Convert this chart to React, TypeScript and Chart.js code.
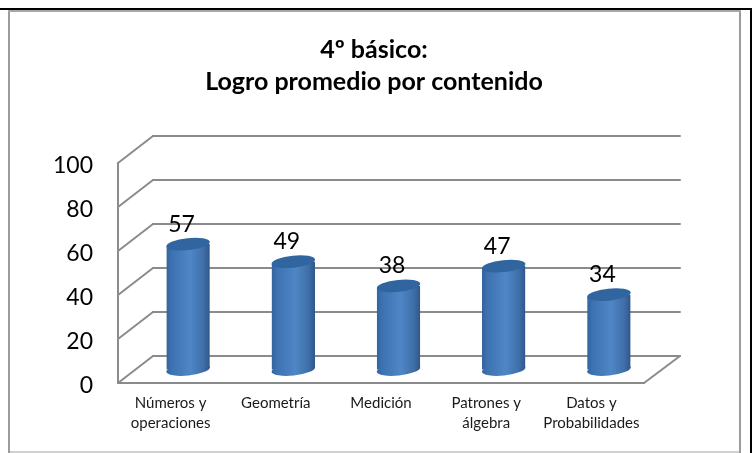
import { useEffect, useRef } from "react";
import { Chart, registerables } from "chart.js";

Chart.register(...registerables);

const categories = [
  ["Números y", "operaciones"],
  ["Geometría"],
  ["Medición"],
  ["Patrones y", "álgebra"],
  ["Datos y", "Probabilidades"],
];
const values = [57, 49, 38, 47, 34];
const yTicks = [0, 20, 40, 60, 80, 100];
const titleLines = ["4º básico:", "Logro promedio por contenido"];

const FONT = "Lato, 'Open Sans', sans-serif";
const DX = 35; // depth of the 3D box, x
const DY = 27; // depth of the 3D box, y
const BX = 17.5; // bars stand in the middle of the depth
const BY = 13.5;
const TILT = (-6 * Math.PI) / 180;
const RY = 6;
const WALL = "#8b8b8b";

function barGradient(ctx: CanvasRenderingContext2D, cx: number, w: number) {
  const g = ctx.createLinearGradient(cx - w / 2, 0, cx + w / 2, 0);
  g.addColorStop(0, "#32639f");
  g.addColorStop(0.12, "#3d72b0");
  g.addColorStop(0.55, "#4f86c6");
  g.addColorStop(0.85, "#3f6fa9");
  g.addColorStop(1, "#2f5787");
  return g;
}

const frame = {
  id: "frame",
  beforeDraw(chart: any) {
    const { ctx } = chart;
    ctx.save();
    ctx.fillStyle = "#ffffff";
    ctx.fillRect(0, 0, 752, 453);
    ctx.fillStyle = "#000000";
    ctx.fillRect(0, 8, 752, 2);
    ctx.fillRect(750, 8, 2, 445);
    ctx.fillStyle = "#9c9c9c";
    ctx.fillRect(8, 10, 2, 443);
    ctx.fillRect(739, 10, 2, 443);
    ctx.fillStyle = "#a8a8a8";
    ctx.fillRect(8, 10, 733, 2);
    ctx.fillStyle = "#d0d0d0";
    ctx.fillRect(10, 451, 729, 2);
    ctx.restore();
  },
};

const walls = {
  id: "walls",
  beforeDatasetsDraw(chart: any) {
    const { ctx, scales, chartArea } = chart;
    const y = scales.y;
    const { left, right } = chartArea;
    ctx.save();
    ctx.strokeStyle = WALL;
    ctx.lineWidth = 2;
    ctx.lineCap = "round";
    const line = (a: number, b: number, c: number, d: number) => {
      ctx.beginPath();
      ctx.moveTo(a, b);
      ctx.lineTo(c, d);
      ctx.stroke();
    };
    for (const v of yTicks) {
      const py = y.getPixelForValue(v);
      line(left, py, left + DX, py - DY);
      line(left + DX, py - DY, right + DX + 1, py - DY);
    }
    line(left, y.getPixelForValue(100), left, y.getPixelForValue(0));
    line(left, y.getPixelForValue(0), right, y.getPixelForValue(0));
    line(right, y.getPixelForValue(0), right + DX + 1, y.getPixelForValue(0) - DY);
    ctx.restore();
  },
};

const cylinders = {
  id: "cylinders",
  beforeDatasetDraw(chart: any, args: any) {
    const { ctx } = chart;
    ctx.save();
    ctx.translate(BX, -BY);
    const slope = Math.tan(TILT) / 2;
    ctx.beginPath();
    for (const el of args.meta.data) {
      const h = el.width / 2;
      ctx.moveTo(el.x - h, el.y - slope * el.width);
      ctx.lineTo(el.x + h, el.y + slope * el.width);
      ctx.lineTo(el.x + h, el.base + slope * el.width);
      ctx.lineTo(el.x - h, el.base - slope * el.width);
      ctx.closePath();
    }
    ctx.clip();
  },
  afterDatasetDraw(chart: any, args: any) {
    const { ctx } = chart;
    ctx.restore();
    ctx.save();
    ctx.translate(BX, -BY);
    for (const el of args.meta.data) {
      const rx = el.width / 2 / Math.cos(TILT);
      ctx.fillStyle = barGradient(ctx, el.x, el.width);
      ctx.beginPath();
      ctx.ellipse(el.x, el.base, rx, RY, TILT, 0, Math.PI * 2);
      ctx.fill();
      ctx.fillStyle = "#31659f";
      ctx.beginPath();
      ctx.ellipse(el.x, el.y, rx, RY, TILT, 0, Math.PI * 2);
      ctx.fill();
    }
    ctx.restore();
  },
};

const valueLabels = {
  id: "valueLabels",
  afterDatasetsDraw(chart: any) {
    const { ctx } = chart;
    ctx.save();
    ctx.font = `23px ${FONT}`;
    ctx.fillStyle = "#000000";
    ctx.textAlign = "center";
    ctx.textBaseline = "middle";
    chart.getDatasetMeta(0).data.forEach((el: any, i: number) => {
      ctx.fillText(String(values[i]), el.x + 11, el.y - BY - 20);
    });
    ctx.restore();
  },
};

export default function App() {
  const ref = useRef<HTMLCanvasElement>(null);
  useEffect(() => {
    const chart = new Chart(ref.current!, {
      type: "bar",
      data: {
        labels: categories,
        datasets: [
          {
            data: values,
            borderWidth: 0,
            categoryPercentage: 1,
            barPercentage: 0.413,
            clip: false,
            backgroundColor: (c: any) => {
              const x = c.chart.scales.x;
              if (!x || c.dataIndex === undefined) return "#4f86c6";
              const cx = x.getPixelForValue(c.dataIndex);
              if (!Number.isFinite(cx)) return "#4f86c6";
              return barGradient(c.chart.ctx, cx, 43.5);
            },
          } as any,
        ],
      },
      options: {
        animation: false,
        responsive: false,
        events: [],
        layout: { padding: { left: 0, right: 4, top: 0, bottom: 0 } },
        plugins: {
          legend: { display: false },
          tooltip: { enabled: false },
          title: {
            display: true,
            text: titleLines,
            color: "#000000",
            font: { family: FONT, size: 25, weight: "bold", lineHeight: 1.28 },
            padding: { top: 34, bottom: 65 },
          },
        },
        scales: {
          x: {
            grid: { display: false },
            border: { display: false },
            ticks: {
              color: "#1a1a1a",
              font: { family: FONT, size: 15, lineHeight: 1.33 },
              padding: 2,
              maxRotation: 0,
              autoSkip: false,
            },
            afterFit: (s: any) => {
              s.height = 70;
            },
          },
          y: {
            min: 0,
            max: 100,
            grid: { display: false },
            border: { display: false },
            ticks: {
              stepSize: 20,
              color: "#000000",
              font: { family: FONT, size: 23, lineHeight: 0.2 },
              padding: 17,
              // the empty first line nudges the digit down onto its gridline
              callback: (v: any) => ["", String(v)],
            },
            afterFit: (s: any) => {
              s.width = 118;
            },
          },
          spacer: {
            position: "right",
            display: true,
            grid: { display: false },
            border: { display: false },
            ticks: { display: false },
            afterFit: (s: any) => {
              s.width = 104;
            },
          },
        },
      } as any,
      plugins: [frame, walls, cylinders, valueLabels],
    });
    return () => chart.destroy();
  }, []);
  return (
    <div style={{ position: "fixed", left: 0, top: 0, width: 752, height: 453 }}>
      <canvas ref={ref} width={752} height={453} style={{ display: "block" }} />
    </div>
  );
}
